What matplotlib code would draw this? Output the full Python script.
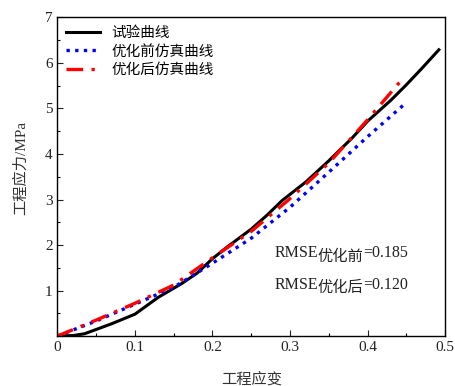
import numpy as np
import matplotlib
matplotlib.use('Agg')
import matplotlib.pyplot as plt
from matplotlib.ticker import MultipleLocator

plt.rcParams['font.family'] = ['Liberation Serif', 'Noto Sans CJK SC', 'DejaVu Sans']

# test curve
test_x = [0, 0.02, 0.035, 0.07, 0.1, 0.13, 0.16, 0.18, 0.2, 0.22, 0.25, 0.27,
          0.29, 0.32, 0.35, 0.38, 0.40, 0.43, 0.45, 0.47, 0.492]
test_y = [0, 0.01, 0.05, 0.27, 0.48, 0.85, 1.15, 1.38, 1.7, 1.97, 2.35, 2.65,
          2.98, 3.38, 3.85, 4.35, 4.72, 5.18, 5.52, 5.88, 6.29]

# simulation before optimisation
pre_x = [0, 0.05, 0.1, 0.15, 0.2, 0.25, 0.3, 0.35, 0.4, 0.446]
pre_y = [0, 0.33, 0.7, 1.07, 1.6, 2.15, 2.83, 3.6, 4.38, 5.07]

# simulation after optimisation
post_x = [0, 0.05, 0.1, 0.15, 0.2, 0.25, 0.3, 0.35, 0.4, 0.445]
post_y = [0, 0.35, 0.72, 1.12, 1.72, 2.3, 3.02, 3.8, 4.75, 5.65]

labels = ['试验曲线', '优化前仿真曲线', '优化后仿真曲线']
rmse_names = ['优化前', '优化后']
rmse_vals = [0.185, 0.120]

fig = plt.figure(figsize=(4.56, 3.86), dpi=100)
ax = fig.add_axes([0.126, 0.1295, 0.85, 0.8252])

ax.plot(test_x, test_y, color='black', lw=2.2, label=labels[0])
ax.plot(pre_x, pre_y, color='blue', lw=2.4, dashes=(1, 1.6), label=labels[1])
ax.plot(post_x, post_y, color='red', lw=2.4, dashes=(5, 2.5, 1, 2.5), label=labels[2])

ax.set_xlim(0, 0.5)
ax.set_ylim(0, 7)
ax.xaxis.set_minor_locator(MultipleLocator(0.05))
ax.yaxis.set_minor_locator(MultipleLocator(0.5))
ax.set_xticks(np.arange(0, 0.51, 0.1))
ax.set_xticklabels(['0', '0.1', '0.2', '0.3', '0.4', '0.5'])
ax.set_yticks(range(0, 8))
ax.set_yticklabels([''] + [str(i) for i in range(1, 8)])
ax.tick_params(which='major', direction='in', length=4, width=0.8, labelsize=11,
               top=False, right=False, colors='#222222')
ax.tick_params(which='minor', direction='in', length=2.5, width=0.8,
               top=False, right=False)
for s in ax.spines.values():
    s.set_linewidth(1.0)

ax.set_xlabel('工程应变', fontsize=11, color='#333333')
ax.set_ylabel('工程应力/MPa', fontsize=11, color='#333333')
ax.xaxis.set_label_coords(0.5, -0.113)
ax.yaxis.set_label_coords(-0.076, 0.529)

ax.legend(loc='upper left', frameon=False, fontsize=10.5, handlelength=2.3,
          labelspacing=0.32, borderaxespad=0.3, borderpad=0.3, handletextpad=0.8)

# RMSE notes, Chinese part set slightly low like a subscript
for i, (nm, v) in enumerate(zip(rmse_names, rmse_vals)):
    t1 = ax.text(0.559, 0.248 - i * 0.1, 'RMSE', transform=ax.transAxes,
                 fontsize=11.5, va='baseline', color='#222222')
    t2 = ax.annotate(nm, xy=(1, 0), xycoords=t1, xytext=(0, -1.8),
                     textcoords='offset points', fontsize=11, va='bottom',
                     color='#222222')
    ax.annotate('=%.3f' % v, xy=(1, 0), xycoords=(t2, t1), fontsize=11.5,
                va='bottom', color='#222222')

fig.savefig('out.png', dpi=100)
